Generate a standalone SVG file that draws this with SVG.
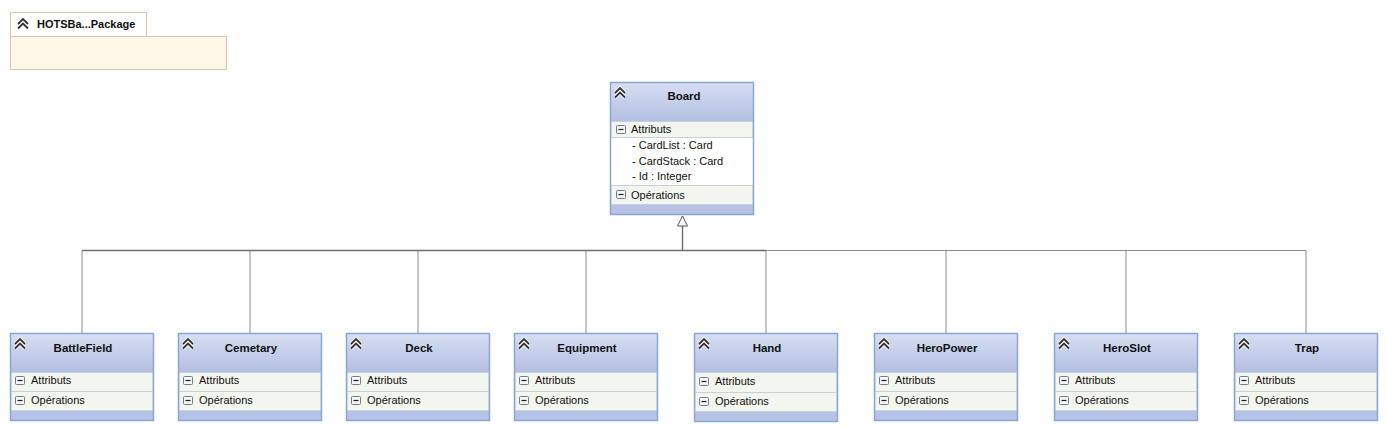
<svg xmlns="http://www.w3.org/2000/svg" width="1387" height="429" viewBox="0 0 1387 429">
<defs>
<linearGradient id="hdr" x1="0" y1="0" x2="0" y2="1">
<stop offset="0" stop-color="#d6def2"/>
<stop offset="1" stop-color="#b3bfe3"/>
</linearGradient>
<g id="chev">
<path d="M-5,4 L0,-1 L5,4 M-5,8.5 L0,3.5 L5,8.5" fill="none" stroke="#fff" stroke-width="3.6"/>
<path d="M-5,4 L0,-1 L5,4 M-5,8.5 L0,3.5 L5,8.5" fill="none" stroke="#333" stroke-width="1.8"/>
</g>
<g id="minus">
<rect x="0.5" y="0.5" width="9" height="8" fill="#f4f4f4" stroke="#6d7d90" rx="1"/>
<line x1="2.5" y1="4.5" x2="7.5" y2="4.5" stroke="#222" stroke-width="1.2"/>
</g>
<marker id="tri" markerWidth="12" markerHeight="12" refX="11" refY="6" orient="auto" markerUnits="userSpaceOnUse">
<path d="M1,1 L11,6 L1,11 Z" fill="#fff" stroke="#555" stroke-width="1"/>
</marker>
</defs>
<style>
text{font-family:"Liberation Sans",Arial,sans-serif;font-size:11px;fill:#111}
.t{font-weight:bold;text-anchor:middle;font-size:11.5px}
.frame{fill:none;stroke:#8aa6d6;stroke-width:1.5}
.row{fill:#f3f6ee;stroke:#c8d0dc;stroke-width:1}
.band{fill:#b7c3e5}
.conn{fill:none;stroke:#8c8c8c;stroke-width:1}
</style>
<rect width="1387" height="429" fill="#fff"/>

<g id="package">
<rect x="10.5" y="12.5" width="136" height="24" fill="#fff" stroke="#dcc7ae"/>
<rect x="10.5" y="36.5" width="216" height="33" fill="#fff8e9" stroke="#dcc7ae"/>
<use href="#chev" x="23" y="20"/>
<text x="37" y="28" style="font-weight:bold">HOTSBa...Package</text>
</g>

<g id="connectors">
<path class="conn" d="M82,333 V250.5 H682"/>
<path class="conn" d="M250,333 V250.5 H682"/>
<path class="conn" d="M418,333 V250.5 H682"/>
<path class="conn" d="M586,333 V250.5 H682"/>
<path class="conn" d="M766,333 V250.5 H682"/>
<path class="conn" d="M946,333 V250.5 H682"/>
<path class="conn" d="M1126,333 V250.5 H682"/>
<path class="conn" d="M1306,333 V250.5 H682"/>
<line x1="82" y1="250.5" x2="766" y2="250.5" stroke="#6e6e6e" stroke-width="1.6"/>
<path d="M682.5,250 V216" fill="none" stroke="#6e6e6e" stroke-width="1.4" marker-end="url(#tri)"/>
</g>

<g id="Board">
<rect x="611" y="83" width="142" height="131" fill="#fff"/>
<rect x="611" y="83" width="142" height="38" fill="url(#hdr)"/>
<rect x="611" y="121.5" width="142" height="16" class="row"/>
<rect x="611" y="185.5" width="142" height="19" class="row"/>
<rect x="611" y="205" width="142" height="9" class="band"/>
<rect x="610.5" y="82.5" width="143" height="132" class="frame"/>
<use href="#chev" x="620" y="89"/>
<text x="684" y="100" class="t">Board</text>
<use href="#minus" x="616" y="125"/>
<text x="631" y="133">Attributs</text>
<text x="632" y="149">- CardList : Card</text>
<text x="632" y="165">- CardStack : Card</text>
<text x="632" y="180">- Id : Integer</text>
<use href="#minus" x="616" y="190"/>
<text x="631" y="199">Opérations</text>
</g>

<g id="BattleField" transform="translate(10,0)">
<rect x="1" y="334" width="142" height="38" fill="url(#hdr)"/>
<rect x="1" y="372.5" width="142" height="19" class="row"/>
<rect x="1" y="391.5" width="142" height="19" class="row"/>
<rect x="1" y="411" width="142" height="9" class="band"/>
<rect x="0.5" y="333.5" width="143" height="87" class="frame"/>
<use href="#chev" x="10" y="340"/>
<text x="73" y="352" class="t">BattleField</text>
<use href="#minus" x="5" y="376"/>
<text x="21" y="384">Attributs</text>
<use href="#minus" x="5" y="396"/>
<text x="21" y="404">Opérations</text>
</g>

<g id="Cemetary" transform="translate(178,0)">
<rect x="1" y="334" width="142" height="38" fill="url(#hdr)"/>
<rect x="1" y="372.5" width="142" height="19" class="row"/>
<rect x="1" y="391.5" width="142" height="19" class="row"/>
<rect x="1" y="411" width="142" height="9" class="band"/>
<rect x="0.5" y="333.5" width="143" height="87" class="frame"/>
<use href="#chev" x="10" y="340"/>
<text x="73" y="352" class="t">Cemetary</text>
<use href="#minus" x="5" y="376"/>
<text x="21" y="384">Attributs</text>
<use href="#minus" x="5" y="396"/>
<text x="21" y="404">Opérations</text>
</g>

<g id="Deck" transform="translate(346,0)">
<rect x="1" y="334" width="142" height="38" fill="url(#hdr)"/>
<rect x="1" y="372.5" width="142" height="19" class="row"/>
<rect x="1" y="391.5" width="142" height="19" class="row"/>
<rect x="1" y="411" width="142" height="9" class="band"/>
<rect x="0.5" y="333.5" width="143" height="87" class="frame"/>
<use href="#chev" x="10" y="340"/>
<text x="73" y="352" class="t">Deck</text>
<use href="#minus" x="5" y="376"/>
<text x="21" y="384">Attributs</text>
<use href="#minus" x="5" y="396"/>
<text x="21" y="404">Opérations</text>
</g>

<g id="Equipment" transform="translate(514,0)">
<rect x="1" y="334" width="142" height="38" fill="url(#hdr)"/>
<rect x="1" y="372.5" width="142" height="19" class="row"/>
<rect x="1" y="391.5" width="142" height="19" class="row"/>
<rect x="1" y="411" width="142" height="9" class="band"/>
<rect x="0.5" y="333.5" width="143" height="87" class="frame"/>
<use href="#chev" x="10" y="340"/>
<text x="73" y="352" class="t">Equipment</text>
<use href="#minus" x="5" y="376"/>
<text x="21" y="384">Attributs</text>
<use href="#minus" x="5" y="396"/>
<text x="21" y="404">Opérations</text>
</g>

<g id="Hand" transform="translate(694,0)">
<rect x="1" y="334" width="142" height="38" fill="url(#hdr)"/>
<rect x="1" y="372.5" width="142" height="20" class="row"/>
<rect x="1" y="392.5" width="142" height="19" class="row"/>
<rect x="1" y="412" width="142" height="9" class="band"/>
<rect x="0.5" y="333.5" width="143" height="88" class="frame"/>
<use href="#chev" x="10" y="340"/>
<text x="73" y="352" class="t">Hand</text>
<use href="#minus" x="5" y="377"/>
<text x="21" y="385">Attributs</text>
<use href="#minus" x="5" y="397"/>
<text x="21" y="405">Opérations</text>
</g>

<g id="HeroPower" transform="translate(874,0)">
<rect x="1" y="334" width="142" height="38" fill="url(#hdr)"/>
<rect x="1" y="372.5" width="142" height="19" class="row"/>
<rect x="1" y="391.5" width="142" height="19" class="row"/>
<rect x="1" y="411" width="142" height="9" class="band"/>
<rect x="0.5" y="333.5" width="143" height="87" class="frame"/>
<use href="#chev" x="10" y="340"/>
<text x="73" y="352" class="t">HeroPower</text>
<use href="#minus" x="5" y="376"/>
<text x="21" y="384">Attributs</text>
<use href="#minus" x="5" y="396"/>
<text x="21" y="404">Opérations</text>
</g>

<g id="HeroSlot" transform="translate(1054,0)">
<rect x="1" y="334" width="142" height="38" fill="url(#hdr)"/>
<rect x="1" y="372.5" width="142" height="19" class="row"/>
<rect x="1" y="391.5" width="142" height="19" class="row"/>
<rect x="1" y="411" width="142" height="9" class="band"/>
<rect x="0.5" y="333.5" width="143" height="87" class="frame"/>
<use href="#chev" x="10" y="340"/>
<text x="73" y="352" class="t">HeroSlot</text>
<use href="#minus" x="5" y="376"/>
<text x="21" y="384">Attributs</text>
<use href="#minus" x="5" y="396"/>
<text x="21" y="404">Opérations</text>
</g>

<g id="Trap" transform="translate(1234,0)">
<rect x="1" y="334" width="142" height="38" fill="url(#hdr)"/>
<rect x="1" y="372.5" width="142" height="19" class="row"/>
<rect x="1" y="391.5" width="142" height="19" class="row"/>
<rect x="1" y="411" width="142" height="9" class="band"/>
<rect x="0.5" y="333.5" width="143" height="87" class="frame"/>
<use href="#chev" x="10" y="340"/>
<text x="73" y="352" class="t">Trap</text>
<use href="#minus" x="5" y="376"/>
<text x="21" y="384">Attributs</text>
<use href="#minus" x="5" y="396"/>
<text x="21" y="404">Opérations</text>
</g>
</svg>
